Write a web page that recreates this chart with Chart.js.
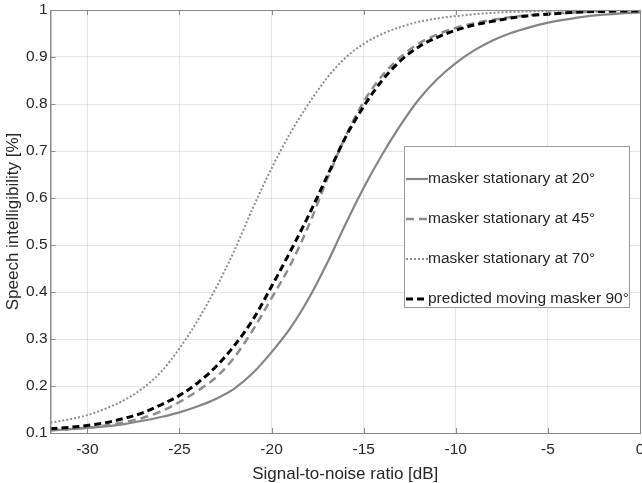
<!DOCTYPE html>
<html lang="en">
<head>
  <meta charset="UTF-8" />
  <title>Speech intelligibility vs SNR</title>
  <script src="https://cdn.jsdelivr.net/npm/chart.js"></script>
  <style>
    html, body { margin: 0; padding: 0; background: #fff; }
    .wrap { width: 642px; height: 483px; position: relative; }
  </style>
</head>
<body>
<div class="wrap">
  <canvas id="chart" width="642" height="483"></canvas>
</div>

<script>
  // SNR in dB (x axis)
  const snr = [-32, -31, -30, -29, -28, -27, -26, -25, -24, -23, -22, -21, -20, -19, -18, -17,
               -16, -15, -14, -13, -12, -11, -10, -9, -8, -7, -6, -5, -4, -3, -2, -1, 0];

  // values
  const stat20 = [0.106, 0.108, 0.111, 0.114, 0.119, 0.126, 0.134, 0.144, 0.157, 0.173, 0.195,
                  0.228, 0.272, 0.322, 0.385, 0.46, 0.543, 0.622, 0.692, 0.755, 0.81, 0.853,
                  0.887, 0.914, 0.935, 0.951, 0.963, 0.973, 0.98, 0.986, 0.99, 0.993, 0.995];
  const stat45 = [0.106, 0.108, 0.111, 0.116, 0.123, 0.132, 0.146, 0.166, 0.19, 0.219, 0.262,
                  0.32, 0.387, 0.456, 0.54, 0.638, 0.73, 0.805, 0.86, 0.9, 0.929, 0.948,
                  0.962, 0.972, 0.979, 0.985, 0.989, 0.992, 0.994, 0.996, 0.997, 0.998, 0.998];
  const stat70 = [0.122, 0.129, 0.138, 0.152, 0.17, 0.195, 0.23, 0.28, 0.34, 0.41, 0.49,
                  0.58, 0.663, 0.737, 0.8, 0.855, 0.898, 0.928, 0.949, 0.964, 0.975, 0.982,
                  0.987, 0.991, 0.994, 0.996, 0.997, 0.998, 0.999, 0.999, 1, 1, 1];
  const moving90 = [0.109, 0.112, 0.116, 0.122, 0.131, 0.143, 0.16, 0.18, 0.207, 0.242, 0.287,
                    0.342, 0.412, 0.485, 0.562, 0.645, 0.728, 0.795, 0.85, 0.892, 0.922, 0.942,
                    0.957, 0.968, 0.976, 0.983, 0.988, 0.991, 0.994, 0.996, 0.997, 0.998, 0.998];

  const seriesNames = ['masker stationary at 20°', 'masker stationary at 45°',
                       'masker stationary at 70°', 'predicted moving masker 90°'];
  const xTicks = [-30, -25, -20, -15, -10, -5, 0];
  const yTicks = [0.1, 0.2, 0.3, 0.4, 0.5, 0.6, 0.7, 0.8, 0.9, 1];

  const FONT = "'Liberation Sans', Arial, Helvetica, sans-serif";
  const AXIS = '#8a8a8a';
  const TEXT = '#262626';

  const pts = ys => snr.map((x, i) => ({ x: x, y: ys[i] }));

  // box outline, inward tick marks and the legend (MATLAB style)
  const matlabFrame = {
    id: 'matlabFrame',
    afterDatasetsDraw(chart) {
      const { ctx, chartArea: a, scales } = chart;
      ctx.save();
      ctx.strokeStyle = AXIS;
      ctx.lineWidth = 1;
      ctx.strokeRect(a.left + 0.5, a.top + 0.5, a.right - a.left, a.bottom - a.top);
      ctx.beginPath();
      xTicks.forEach(v => {
        const px = Math.round(scales.x.getPixelForValue(v)) + 0.5;
        ctx.moveTo(px, a.bottom); ctx.lineTo(px, a.bottom - 5);
        ctx.moveTo(px, a.top); ctx.lineTo(px, a.top + 5);
      });
      yTicks.forEach(v => {
        const py = Math.round(scales.y.getPixelForValue(v)) + 0.5;
        ctx.moveTo(a.left, py); ctx.lineTo(a.left + 5, py);
      });
      ctx.stroke();

      // legend
      const bx = a.right - 236, by = a.top + 136, bw = 225, bh = 161;
      ctx.fillStyle = '#fff';
      ctx.fillRect(bx, by, bw, bh);
      ctx.strokeStyle = '#9a9a9a';
      ctx.strokeRect(bx + 0.5, by + 0.5, bw, bh);
      ctx.font = '15.5px ' + FONT;
      ctx.textBaseline = 'middle';
      chart.data.datasets.forEach((ds, i) => {
        const ry = by + 33 + i * 40;
        ctx.beginPath();
        ctx.strokeStyle = ds.borderColor;
        ctx.lineWidth = ds.borderWidth;
        ctx.setLineDash(ds.borderDash || []);
        ctx.moveTo(bx + 2, ry); ctx.lineTo(bx + 24, ry);
        ctx.stroke();
        ctx.setLineDash([]);
        ctx.fillStyle = TEXT;
        ctx.fillText(ds.label, bx + 24, ry);
      });
      ctx.restore();
    }
  };

  new Chart(document.getElementById('chart'), {
    type: 'line',
    data: {
      datasets: [
        { label: seriesNames[0], data: pts(stat20), borderColor: '#858585', borderWidth: 2.2, order: 3 },
        { label: seriesNames[1], data: pts(stat45), borderColor: '#8c8c8c', borderWidth: 2.5, borderDash: [8, 5], order: 2 },
        { label: seriesNames[2], data: pts(stat70), borderColor: '#8c8c8c', borderWidth: 2, borderDash: [2, 2], order: 4 },
        { label: seriesNames[3], data: pts(moving90), borderColor: '#000', borderWidth: 3, borderDash: [7, 4], order: 1 }
      ]
    },
    options: {
      responsive: false,
      animation: false,
      events: [],
      layout: { padding: { top: 10, right: 2, left: 0, bottom: 0 } },
      elements: {
        point: { radius: 0 },
        line: { cubicInterpolationMode: 'monotone', fill: false }
      },
      plugins: { legend: { display: false }, tooltip: { enabled: false } },
      scales: {
        x: {
          type: 'linear',
          min: -32,
          max: 0,
          afterBuildTicks: s => { s.ticks = xTicks.map(v => ({ value: v })); },
          afterFit: s => { s.height = 50; s.paddingLeft = 0; s.paddingRight = 0; },
          ticks: { color: TEXT, font: { family: FONT, size: 15.5 }, padding: 7, maxRotation: 0 },
          grid: { color: 'rgba(38,38,38,0.12)', drawTicks: false },
          border: { color: AXIS },
          title: {
            display: true,
            text: 'Signal-to-noise ratio [dB]',
            color: TEXT,
            font: { family: FONT, size: 17, lineHeight: 1 },
            padding: { top: 0, bottom: 0 }
          }
        },
        y: {
          min: 0.1,
          max: 1,
          afterBuildTicks: s => { s.ticks = yTicks.map(v => ({ value: v })); },
          afterFit: s => { s.width = 50.5; s.paddingTop = 0; s.paddingBottom = 0; },
          ticks: {
            color: TEXT,
            font: { family: FONT, size: 15.5 },
            padding: 3,
            callback: v => String(Math.round(v * 10) / 10)
          },
          grid: { color: 'rgba(38,38,38,0.12)', drawTicks: false },
          border: { color: AXIS },
          title: {
            display: true,
            text: 'Speech intelligibility [%]',
            color: TEXT,
            font: { family: FONT, size: 17, lineHeight: 1 },
            padding: { top: 5, bottom: 0 }
          }
        }
      }
    },
    plugins: [matlabFrame]
  });
</script>
</body>
</html>
